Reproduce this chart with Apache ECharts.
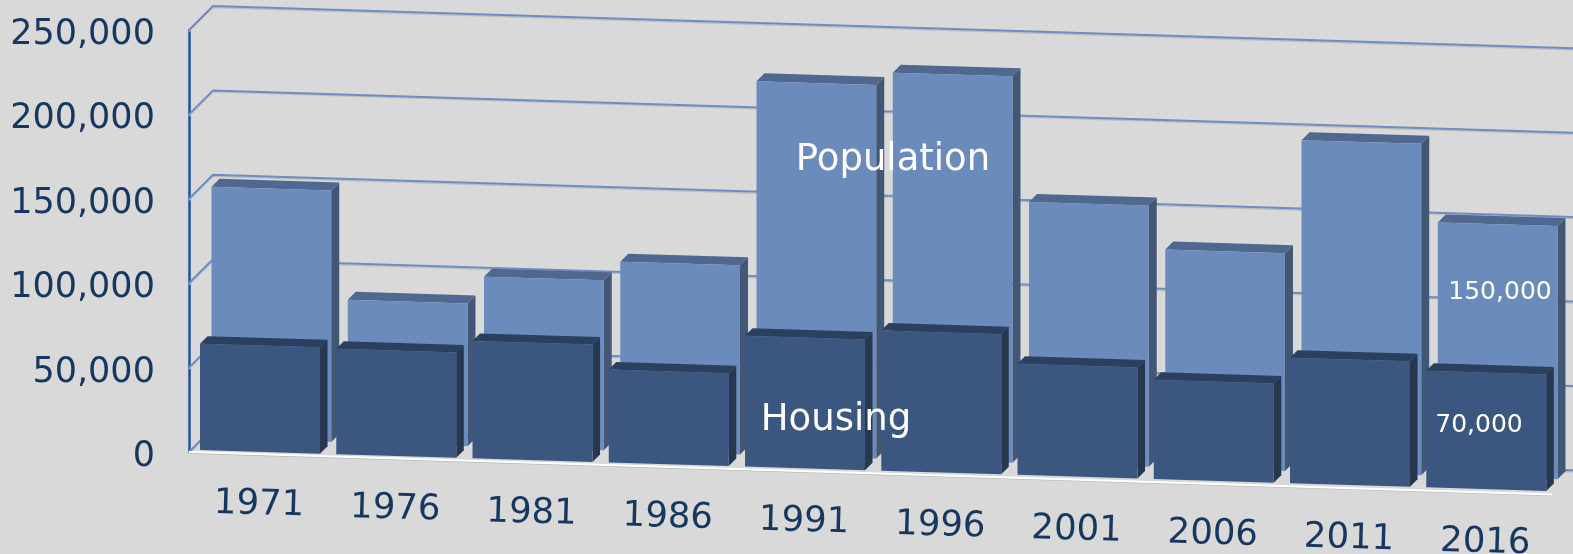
<!DOCTYPE html>
<html>
<head>
<meta charset="utf-8">
<style>html,body{margin:0;padding:0;background:#d9d9d9}#c{width:1573px;height:554px}</style>
<script src="https://cdn.jsdelivr.net/npm/echarts@6/dist/echarts.min.js"></script>
</head>
<body>
<div id="c"></div>
<script>
const categories = ['1971','1976','1981','1986','1991','1996','2001','2006','2011','2016'];
const population = [149000,84500,100700,112000,221300,228900,154800,129000,196300,150000];
const housing = [63000,62400,69500,55000,77500,83000,65800,58800,74300,69000];
const yTicks = [0,50000,100000,150000,200000,250000];

const SLOPE = 0.0304;
const chart = echarts.init(document.getElementById('c'), null, {renderer:'canvas'});

function barItem(opts){
  return function(params, api){
    const i = api.value(0), v = api.value(1);
    const base = api.coord([i,0]), top = api.coord([i,v]);
    const x0 = base[0] - 60 + opts.dx, x1 = x0 + opts.w;
    const shear = x => opts.dy + SLOPE*(x - 200);
    const yb0 = base[1] + shear(x0), yb1 = base[1] + shear(x1);
    const yt0 = top[1] + shear(x0), yt1 = top[1] + shear(x1);
    const d = opts.depth, e = opts.rise;
    return {type:'group', silent:true, children:[
      {type:'polygon', shape:{points:[[x1,yt1],[x1+d,yt1-e],[x1+d,yb1-e],[x1,yb1]]}, style:{fill:opts.side}},
      {type:'polygon', shape:{points:[[x0,yt0],[x0+d,yt0-e],[x1+d,yt1-e],[x1,yt1]]}, style:{fill:opts.top}},
      {type:'polygon', shape:{points:[[x0,yt0],[x1,yt1],[x1,yb1],[x0,yb0]]}, style:{fill:opts.front}}
    ]};
  };
}

const txt = (text,x,y,size) => ({type:'text', x, y, z:100, silent:true, style:{
  text, fill:'#fff', font:size+'px "DejaVu Sans"', align:'center', verticalAlign:'middle',
  shadowBlur:3, shadowColor:'rgba(0,0,0,0.55)', shadowOffsetX:1.5, shadowOffsetY:1.5}});

chart.setOption({
  backgroundColor:'#d9d9d9',
  animation:false,
  grid:{left:191.9, width:1362.5, top:30, height:422, containLabel:false},
  xAxis:{type:'category', data:categories, axisLine:{show:false}, axisTick:{show:false}, axisLabel:{show:false}, splitLine:{show:false}},
  yAxis:{type:'value', min:0, max:250000, interval:50000, offset:3,
    axisLine:{show:true, lineStyle:{color:'#1f4f9c', width:2.5}}, axisTick:{show:false}, splitLine:{show:false},
    axisLabel:{margin:34, color:'#17375e', fontFamily:'DejaVu Sans', fontSize:35,
      formatter:v=>'{v|'+v.toLocaleString('en-US')+'}',
      rich:{v:{color:'#17375e', fontFamily:'DejaVu Sans', fontSize:35, padding:[10,0,0,0]}}}},
  series:[
    {type:'custom', name:'Gridlines', clip:false, z:1, data:yTicks.map(t=>[0,t]),
      encode:{x:0,y:1},
      renderItem(params, api){
        const y = api.coord([0,api.value(1)])[1];
        const pts = [[189,y],[213,y-24],[1573,y-24+0.0311*1360]];
        return {type:'group', silent:true, children:[
          {type:'polyline', shape:{points:pts.map(p=>[p[0],p[1]+1.5])}, style:{fill:'none',stroke:'#bdbdbd',lineWidth:1.4}},
          {type:'polyline', shape:{points:pts}, style:{fill:'none',stroke:'#6d8dc0',lineWidth:2}}
        ]};
      }},
    {type:'custom', name:'Floor', clip:false, z:2, data:[[0,0]], encode:{x:0,y:1},
      renderItem(params, api){
        const y = api.coord([0,0])[1];
        return {type:'group', silent:true, children:[
          {type:'line', shape:{x1:189,y1:y+1.2,x2:1552,y2:y+43.5}, style:{stroke:'#b5b5b5',lineWidth:1.2}},
          {type:'line', shape:{x1:189,y1:y,x2:1552,y2:y+42.5}, style:{stroke:'#ffffff',lineWidth:1.8}}
        ]};
      }},
    {type:'custom', name:'Population', clip:false, z:3, data:categories.map((c,i)=>[i,population[i]]),
      encode:{x:0,y:1},
      renderItem:barItem({dx:11.5,w:119.7,dy:-14,depth:8,rise:8,front:'#6b8bbd',top:'#50678f',side:'#425675'})},
    {type:'custom', name:'Housing', clip:false, z:4, data:categories.map((c,i)=>[i,housing[i]]),
      encode:{x:0,y:1},
      renderItem:barItem({dx:0,w:120,dy:-2,depth:7.5,rise:7.5,front:'#3b5780',top:'#2b405f',side:'#27374f'})},
    {type:'custom', name:'Year labels', clip:false, z:5, data:categories.map((c,i)=>[i,0]),
      encode:{x:0,y:1},
      renderItem(params, api){
        const i = api.value(0), c = api.coord([i,0]);
        const x = c[0]-1;
        return {type:'text', x, y:c[1]+53+0.031*(x-259), rotation:-0.028, silent:true,
          style:{text:categories[i], fill:'#17375e', font:'35.5px "DejaVu Sans"', align:'center', verticalAlign:'middle'}};
      }}
  ],
  graphic:[
    txt('Population',893,160,37),
    txt('Housing',836,420,37),
    txt('150,000',1500,292,25),
    txt('70,000',1479,425,25)
  ]
});
</script>
</body>
</html>
